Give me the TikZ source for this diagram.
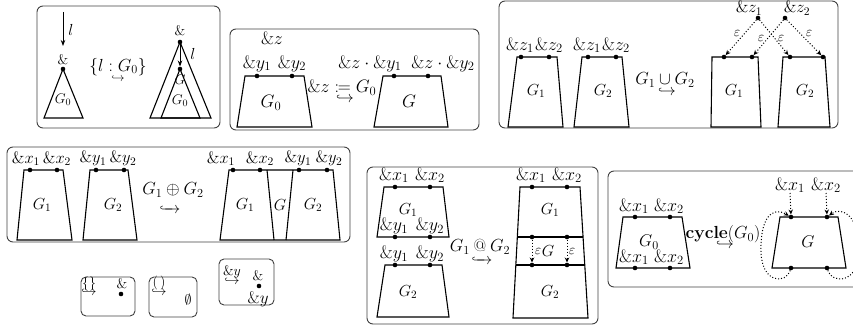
\RequirePackage{fix-cm}
\documentclass[tikz,border=0pt]{standalone}
\usepackage{amsmath,amssymb,mathtools}
\usetikzlibrary{arrows.meta}
\tikzset{
  frame/.style={draw=black!75, line width=0.9pt, rounded corners=6pt},
  sframe/.style={draw=black!75, line width=0.9pt, rounded corners=5pt},
  trap/.style={draw=black, line width=1.1pt, line join=miter},
  dotn/.style={circle, fill=black, inner sep=0pt, minimum size=4.6pt},
  amp/.style={inner sep=0pt, font=\fontsize{18}{20}\selectfont},
  ampm/.style={inner sep=0pt, font=\fontsize{16.5}{19}\selectfont},
  gl/.style={inner sep=0pt, font=\fontsize{16}{18}\selectfont},
  op/.style={inner sep=0pt, font=\fontsize{17.5}{20}\selectfont},
  hk/.style={inner sep=0pt, font=\fontsize{16}{18}\selectfont},
  eps/.style={inner sep=0pt, font=\fontsize{14}{16}\selectfont},
  small/.style={inner sep=0pt, font=\fontsize{14}{16}\selectfont},
  dotarr/.style={dotted, line width=1pt, -{Stealth[length=5pt,width=4.5pt]}},
  solarr/.style={line width=1pt, -{Stealth[length=6pt,width=4.5pt]}},
}
\begin{document}
\begin{tikzpicture}[x=1pt,y=-1pt]
\useasboundingbox (0,0) rectangle (853,326);
\clip (0,0) rectangle (853,326);

% ---------- labelled edge into a record ----------
\draw[frame] (37,6) rectangle (220,128);
\coordinate (a1s) at (63,12);
\coordinate (a1e) at (63,46);
\draw[solarr] (a1s) -- (a1e);
\node[small, font=\fontsize{16}{18}\selectfont] (a1l) at (71,30) {$l$};
\node[small] (a1amp) at (63,60) {\&};
\node[dotn] (a1d) at (63,69) {};
\draw[trap] (a1d.center) -- (44,118) -- (83,118) -- cycle;
\node[small] (a1g) at (63,100) {$G_0$};
\node[op] (a1op) at (118,67) {$\{l : G_0\}$};
\node[hk, font=\fontsize{12}{14}\selectfont] (a1hk) at (118,79) {$\hookrightarrow$};
\node[small] (a1ramp) at (180,31) {\&};
\node[dotn] (a1rd) at (180,42) {};
\draw[trap] (a1rd.center) -- (150,118) -- (211,118) -- cycle;
\node[small, font=\fontsize{16}{18}\selectfont] (a1rl) at (193,54) {$l$};
\node[dotn] (a1rd2) at (180,69) {};
\draw[solarr] (a1rd) -- (a1rd2);
\draw[trap] (a1rd2.center) -- (161,118) -- (200,118) -- cycle;
\node[small] (a1rG) at (180,80) {$G$};
\node[small] (a1rg) at (180,101) {$G_0$};

% ---------- let binding ----------
\draw[frame] (230,29) rectangle (479,130);
\node[amp] (a2z) at (272,38) {$\&z$};
\draw[trap] (245,76) -- (304,76) -- (312,127) -- (237,127) -- cycle;
\node[dotn] (a2d1) at (257,76) {};
\node[dotn] (a2d2) at (292,76) {};
\node[amp, anchor=south] (a2y1) at (257,72) {$\&y_1$};
\node[amp, anchor=south] (a2y2) at (292,72) {$\&y_2$};
\node[gl, font=\fontsize{18}{20}\selectfont] (a2g) at (271,103) {$G_0$};
\node[op, font=\fontsize{18}{20}\selectfont] (a2op) at (342,88) {$\&z \coloneqq G_0$};
\node[hk] (a2hk) at (345,99) {$\hookrightarrow$};
\draw[trap] (383,76) -- (441,76) -- (448,127) -- (374,127) -- cycle;
\node[dotn] (a2e1) at (394,76) {};
\node[dotn] (a2e2) at (428,76) {};
\node[amp, anchor=south] (a2zy1) at (370,72) {$\&z\cdot\&y_1$};
\node[amp, anchor=south] (a2zy2) at (443,72) {$\&z\cdot\&y_2$};
\node[gl, font=\fontsize{18}{20}\selectfont] (a2G) at (409,101) {$G$};

% ---------- union ----------
\draw[frame] (499,1) rectangle (838,128);
\draw[trap] (517,57) -- (557,57) -- (563,127) -- (508,127) -- cycle;
\node[dotn] (a3d1) at (521,57) {};
\node[dotn] (a3d2) at (549,57) {};
\node[amp, anchor=south] (a3z1) at (520,53) {$\&z_1$};
\node[amp, anchor=south] (a3z2) at (549,53) {$\&z_2$};
\node[gl] (a3g1) at (536,91) {$G_1$};
\draw[trap] (582,57) -- (622,57) -- (629,127) -- (574,127) -- cycle;
\node[dotn] (a3d3) at (588,57) {};
\node[dotn] (a3d4) at (616,57) {};
\node[amp, anchor=south] (a3z3) at (587,53) {$\&z_1$};
\node[amp, anchor=south] (a3z4) at (616,53) {$\&z_2$};
\node[gl] (a3g2) at (603,91) {$G_2$};
\node[op] (a3op) at (665,80) {$G_1 \cup G_2$};
\node[hk] (a3hk) at (667,92) {$\hookrightarrow$};
\draw[trap] (712,57) -- (758,57) -- (761,127) -- (711,127) -- cycle;
\node[dotn] (a3e1) at (724,57) {};
\node[dotn] (a3e2) at (752,57) {};
\node[gl] (a3h1) at (734,91) {$G_1$};
\draw[trap] (783,57) -- (825,57) -- (830,127) -- (778,127) -- cycle;
\node[dotn] (a3e3) at (790,57) {};
\node[dotn] (a3e4) at (823,57) {};
\node[gl] (a3h2) at (805,91) {$G_2$};
\node[dotn] (a3s1) at (758,18) {};
\node[dotn] (a3s2) at (785,18) {};
\node[ampm, anchor=base] (a3l1) at (749,13) {$\&z_1$};
\node[ampm, anchor=base] (a3l2) at (797,13) {$\&z_2$};
\draw[dotarr] (a3s1) -- (a3e1);
\draw[dotarr] (a3s1) -- (a3e3);
\draw[dotarr] (a3s2) -- (a3e2);
\draw[dotarr] (a3s2) -- (a3e4);
\node[eps] (a3p1) at (737,33) {$\varepsilon$};
\node[eps] (a3p2) at (761,38) {$\varepsilon$};
\node[eps] (a3p3) at (781,38) {$\varepsilon$};
\node[eps] (a3p4) at (809,33) {$\varepsilon$};

% ---------- parallel composition ----------
\draw[frame] (7,147) rectangle (350,242);
\draw[trap] (24,170) -- (63,170) -- (72,240) -- (17,240) -- cycle;
\node[dotn] (b1d1) at (30,170) {};
\node[dotn] (b1d2) at (57,170) {};
\node[ampm, anchor=south] (b1x1) at (26,166) {$\&x_1$};
\node[ampm, anchor=south] (b1x2) at (57,166) {$\&x_2$};
\node[gl] (b1g1) at (42,205) {$G_1$};
\draw[trap] (90,170) -- (128,170) -- (137,240) -- (83,240) -- cycle;
\node[dotn] (b1d3) at (96,170) {};
\node[dotn] (b1d4) at (124,170) {};
\node[ampm, anchor=south] (b1y1) at (93,166) {$\&y_1$};
\node[ampm, anchor=south] (b1y2) at (123,166) {$\&y_2$};
\node[gl] (b1g2) at (113,205) {$G_2$};
\node[op] (b1op) at (173,190) {$G_1 \oplus G_2$};
\node[hk] (b1hk) at (170,207) {$\xhookrightarrow{\hspace{12pt}}$};
\draw[trap] (229,170) -- (333,170) -- (340,240) -- (220,240) -- cycle;
\draw[trap] (267,170) -- (274,240);
\draw[trap] (293,170) -- (286,240);
\node[dotn] (b1e1) at (233,170) {};
\node[dotn] (b1e2) at (260,170) {};
\node[dotn] (b1e3) at (299,170) {};
\node[dotn] (b1e4) at (327,170) {};
\node[ampm, anchor=south] (b1u1) at (221,166) {$\&x_1$};
\node[ampm, anchor=south] (b1u2) at (260,166) {$\&x_2$};
\node[ampm, anchor=south] (b1u3) at (298,166) {$\&y_1$};
\node[ampm, anchor=south] (b1u4) at (329,166) {$\&y_2$};
\node[gl] (b1h1) at (245,205) {$G_1$};
\node[gl] (b1h) at (280,205) {$G$};
\node[gl] (b1h2) at (313,205) {$G_2$};

% ---------- sequential composition ----------
\draw[frame] (367,167) rectangle (598,324);
\draw[trap] (384,187) -- (443,187) -- (449,237) -- (377,237) -- cycle;
\node[dotn] (b2d1) at (395,187) {};
\node[dotn] (b2d2) at (430,187) {};
\node[dotn] (b2d3) at (395,237) {};
\node[dotn] (b2d4) at (430,237) {};
\node[amp, anchor=south] (b2x1) at (394,183) {$\&x_1$};
\node[amp, anchor=south] (b2x2) at (430,183) {$\&x_2$};
\node[amp, anchor=south] (b2y1) at (394,234) {$\&y_1$};
\node[amp, anchor=south] (b2y2) at (430,234) {$\&y_2$};
\node[gl] (b2g1) at (408,210) {$G_1$};
\draw[trap] (385,265) -- (442,265) -- (449,317) -- (377,317) -- cycle;
\node[dotn] (b2d5) at (395,265) {};
\node[dotn] (b2d6) at (430,265) {};
\node[amp, anchor=south] (b2y3) at (394,262) {$\&y_1$};
\node[amp, anchor=south] (b2y4) at (430,262) {$\&y_2$};
\node[gl] (b2g2) at (408,292) {$G_2$};
\node[op] (b2op) at (480,247) {$G_1 \mathbin{@} G_2$};
\node[hk] (b2hk) at (482,258) {$\xhookrightarrow{\hspace{12pt}}$};
\draw[trap] (520,187) -- (580,187) -- (588,318) -- (513,318) -- cycle;
\draw[trap] (517.3,237) -- (583.1,237);
\draw[trap] (515.8,265) -- (584.8,265);
\node[dotn] (b2e1) at (532,187) {};
\node[dotn] (b2e2) at (567,187) {};
\node[dotn] (b2m1) at (532,237) {};
\node[dotn] (b2m2) at (567,237) {};
\node[dotn] (b2n1) at (532,265) {};
\node[dotn] (b2n2) at (567,265) {};
\draw[dotarr] (b2m1) -- (b2n1);
\draw[dotarr] (b2m2) -- (b2n2);
\node[amp, anchor=south] (b2u1) at (531,183) {$\&x_1$};
\node[amp, anchor=south] (b2u2) at (567,183) {$\&x_2$};
\node[eps] (b2p1) at (538,251) {$\varepsilon$};
\node[gl] (b2h) at (548,251) {$G$};
\node[eps] (b2p2) at (572,251) {$\varepsilon$};
\node[gl] (b2h1) at (550,210) {$G_1$};
\node[gl] (b2h2) at (550,292) {$G_2$};

% ---------- cycle ----------
\draw[frame] (608,171) rectangle (880,287);
\draw[trap] (623,217) -- (682,217) -- (690,268) -- (616,268) -- cycle;
\node[dotn] (c1d1) at (635,217) {};
\node[dotn] (c1d2) at (670,217) {};
\node[dotn] (c1d3) at (635,268) {};
\node[dotn] (c1d4) at (670,268) {};
\node[amp, anchor=south] (c1x1) at (634,214) {$\&x_1$};
\node[amp, anchor=south] (c1x2) at (669,214) {$\&x_2$};
\node[amp, anchor=south] (c1x3) at (634,265) {$\&x_1$};
\node[amp, anchor=south] (c1x4) at (669,265) {$\&x_2$};
\node[gl, font=\fontsize{17}{19}\selectfont] (c1g) at (649,242) {$G_0$};
\node[op] (c1op) at (723,234) {$\mathbf{cycle}(G_0)$};
\node[hk] (c1hk) at (725,245) {$\hookrightarrow$};
\draw[trap] (780,217) -- (838,217) -- (846,268) -- (772,268) -- cycle;
\node[dotn] (c1e1) at (791,217) {};
\node[dotn] (c1e2) at (827,217) {};
\node[dotn] (c1e3) at (791,268) {};
\node[dotn] (c1e4) at (827,268) {};
\node[amp, anchor=south] (c1u1) at (790,193) {$\&x_1$};
\node[amp, anchor=south] (c1u2) at (826,193) {$\&x_2$};
\draw[dotarr] (c1u1.south) -- (c1e1);
\draw[dotarr] (c1u2.south) -- (c1e2);
\node[gl, font=\fontsize{17}{19}\selectfont] (c1G) at (808,242) {$G$};
\draw[dotarr] (c1e3) .. controls (786,284) and (762,284) .. (761,252)
  .. controls (760,218) and (772,206) .. (c1e1);
\draw[dotarr] (c1e4) .. controls (832,284) and (858,284) .. (859,252)
  .. controls (860,216) and (842,206) .. (c1e2);

% ---------- base cases ----------
\draw[sframe] (81,277) rectangle (135,316);
\node[small] (s1a) at (89,284) {$\{\}$};
\node[small] (s1h) at (89,292) {$\hookrightarrow$};
\node[small] (s1b) at (122,284) {\&};
\node[dotn] (s1d) at (121,294) {};

\draw[sframe] (149,277) rectangle (197,317);
\node[small] (s2a) at (159,283) {$(\,)$};
\node[small] (s2h) at (159,292) {$\hookrightarrow$};
\node[small] (s2b) at (188,300) {$\emptyset$};

\draw[sframe] (219,259) rectangle (274,305);
\node[small] (s3a) at (232,272) {$\&y$};
\node[small] (s3h) at (232,281) {$\hookrightarrow$};
\node[small] (s3b) at (258,276) {\&};
\node[dotn] (s3d) at (259,286) {};
\node[small, font=\fontsize{17}{19}\selectfont] (s3c) at (258,299) {$\&y$};
\end{tikzpicture}
\end{document}
